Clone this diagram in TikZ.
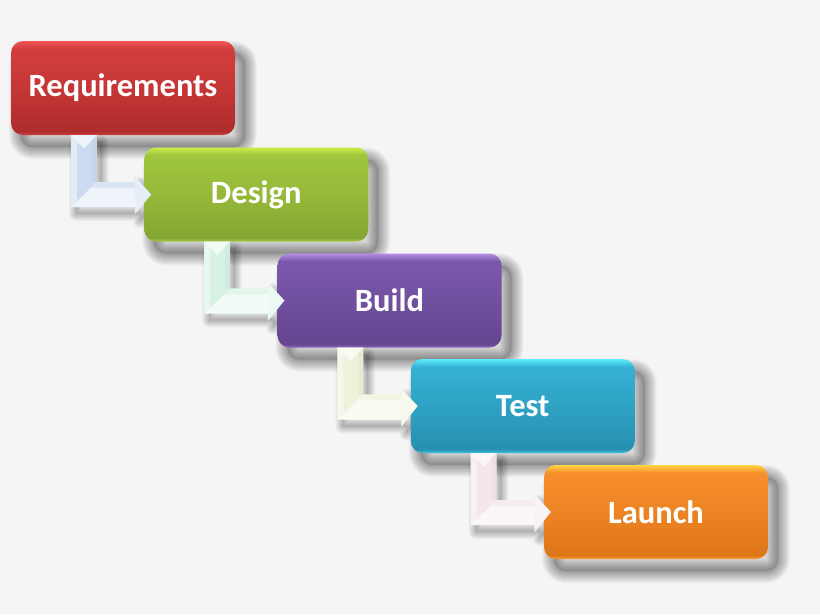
\documentclass[tikz,border=0pt]{standalone}
\usepackage{fontspec}
\setmainfont{Carlito}
\usetikzlibrary{calc}
\pgfdeclarelayer{back}\pgfdeclarelayer{shade}
\pgfsetlayers{back,shade,main}
% box colours: b = bottom rim, d = dark bottom, m = middle, t = top body, h = top highlight
\definecolor{bgc}{HTML}{F5F5F5}
\definecolor{rb}{HTML}{D04242}\definecolor{rd}{HTML}{AE2C2C}\definecolor{rm}{HTML}{C63636}\definecolor{rt}{HTML}{D23E3E}\definecolor{rh}{HTML}{F25656}
\definecolor{gb}{HTML}{A8CC44}\definecolor{gd}{HTML}{84A532}\definecolor{gm}{HTML}{96B93A}\definecolor{gt}{HTML}{A0C63E}\definecolor{gh}{HTML}{CDEB4A}
\definecolor{pb}{HTML}{8A66BC}\definecolor{pd}{HTML}{654590}\definecolor{pm}{HTML}{7150A0}\definecolor{pt}{HTML}{7C58AC}\definecolor{ph}{HTML}{B48CE6}
\definecolor{cb}{HTML}{44C4E4}\definecolor{cd}{HTML}{2890B0}\definecolor{cm}{HTML}{2EA2C4}\definecolor{ct}{HTML}{36B2D6}\definecolor{ch}{HTML}{5CEEFA}
\definecolor{ob}{HTML}{F8A034}\definecolor{od}{HTML}{DE7618}\definecolor{om}{HTML}{EC8424}\definecolor{ot}{HTML}{F7902C}\definecolor{oh}{HTML}{FFD448}
\definecolor{a1}{HTML}{CCDBF0}\definecolor{a2}{HTML}{D6F2E4}\definecolor{a3}{HTML}{EEF2DA}\definecolor{a4}{HTML}{F4E6EA}
\pgfdeclareverticalshading{shr}{100bp}{color(0bp)=(rb); color(25bp)=(rb); color(27bp)=(rd); color(50bp)=(rm); color(71bp)=(rt); color(75bp)=(rh); color(100bp)=(rh)}
\pgfdeclareverticalshading{shg}{100bp}{color(0bp)=(gb); color(25bp)=(gb); color(27bp)=(gd); color(50bp)=(gm); color(71bp)=(gt); color(75bp)=(gh); color(100bp)=(gh)}
\pgfdeclareverticalshading{shp}{100bp}{color(0bp)=(pb); color(25bp)=(pb); color(27bp)=(pd); color(50bp)=(pm); color(71bp)=(pt); color(75bp)=(ph); color(100bp)=(ph)}
\pgfdeclareverticalshading{shc}{100bp}{color(0bp)=(cb); color(25bp)=(cb); color(27bp)=(cd); color(50bp)=(cm); color(71bp)=(ct); color(75bp)=(ch); color(100bp)=(ch)}
\pgfdeclareverticalshading{sho}{100bp}{color(0bp)=(ob); color(25bp)=(ob); color(27bp)=(od); color(50bp)=(om); color(71bp)=(ot); color(75bp)=(oh); color(100bp)=(oh)}
\tikzset{
  stagebox/.style={rounded corners=12pt, minimum width=224pt, minimum height=94pt, inner sep=0pt,
    text=white, font=\fontsize{32.5}{38}\selectfont\bfseries},
  facet/.style={fill=white, opacity=#1},
  shadowlayer/.style={black, draw opacity=#1, line join=round},
}
% L-shaped connector outline, relative to base coordinate #1, tip coordinate #2
\newcommand\Lpoly[2]{($(#1)+(60,0)$) -- ($(#1)+(86,0)$) -- ($(#1)+(86,47)$) -- ($(#1)+(124,47)$) -- ($(#1)+(124,41)$)
     -- (#2) -- ($(#1)+(124,79)$) -- ($(#1)+(124,72)$) -- ($(#1)+(60,72)$) -- cycle}
\newcommand\boxshadow[1]{%
  \fill[black, opacity=0.12, rounded corners=12pt] ($(#1.south west)+(10,12)$) rectangle ($(#1.north east)+(10,12)$);
  \foreach \k in {1,...,16}
    \draw[shadowlayer=0.022, line width={1.5pt*\k}, rounded corners=12pt] ($(#1.south west)+(10,12)$) rectangle ($(#1.north east)+(10,12)$);
}
\newcommand\Lconn[3]{%
  \coordinate (o) at (#1.south west);
  \coordinate (tip) at ($(#2.west)+(7,0)$);
  \coordinate (os) at ($(o)+(5,7)$);
  \coordinate (tips) at ($(tip)+(5,7)$);
  \begin{pgfonlayer}{shade}
    \fill[black, opacity=0.08] \Lpoly{os}{tips};
    \foreach \k in {1,...,10}
      \draw[shadowlayer=0.022, line width={1.4pt*\k}] \Lpoly{os}{tips};
  \end{pgfonlayer}
  \fill[#3] \Lpoly{o}{tip};
  \fill[facet=0.7] ($(o)+(60,0)$) -- ($(o)+(86,0)$) -- ($(o)+(73,13)$) -- cycle;
  \fill[facet=0.45] ($(o)+(60,0)$) -- ($(o)+(66,6)$) -- ($(o)+(66,66)$) -- ($(o)+(60,72)$) -- cycle;
  \fill[facet=0.7] ($(o)+(60,72)$) -- ($(o)+(86,47)$) -- ($(o)+(124,47)$) -- ($(o)+(124,72)$) -- cycle;
  \fill[facet=0.55] ($(o)+(124,41)$) -- (tip) -- ($(o)+(124,79)$) -- cycle;
  \fill[#3!80!gray, opacity=0.3] ($(o)+(86,0)$) -- ($(o)+(81,5)$) -- ($(o)+(81,47)$) -- ($(o)+(86,47)$) -- cycle;
  \fill[#3, opacity=0.6] ($(o)+(86,47)$) -- ($(o)+(124,47)$) -- ($(o)+(124,53)$) -- ($(o)+(81,53)$) -- cycle;
}
\begin{document}
\begin{tikzpicture}[x=1pt, y=-1pt]
  \begin{pgfonlayer}{back}
    \fill[bgc] (0,0) rectangle (820,614);
  \end{pgfonlayer}
  \useasboundingbox (0,0) rectangle (820,614);
  \node[stagebox, shading=shr] (req) at (123,88) {Requirements};
  \node[stagebox, shading=shg] (des) at (256.25,194.5) {Design};
  \node[stagebox, shading=shp] (bld) at (389.5,300.5) {Build};
  \node[stagebox, shading=shc] (tst) at (522.75,406) {Test};
  \node[stagebox, shading=sho] (lch) at (656,512) {Launch};
  \begin{pgfonlayer}{shade}
    \boxshadow{req}\boxshadow{des}\boxshadow{bld}\boxshadow{tst}\boxshadow{lch}
  \end{pgfonlayer}
  \Lconn{req}{des}{a1}
  \Lconn{des}{bld}{a2}
  \Lconn{bld}{tst}{a3}
  \Lconn{tst}{lch}{a4}
\end{tikzpicture}
\end{document}
